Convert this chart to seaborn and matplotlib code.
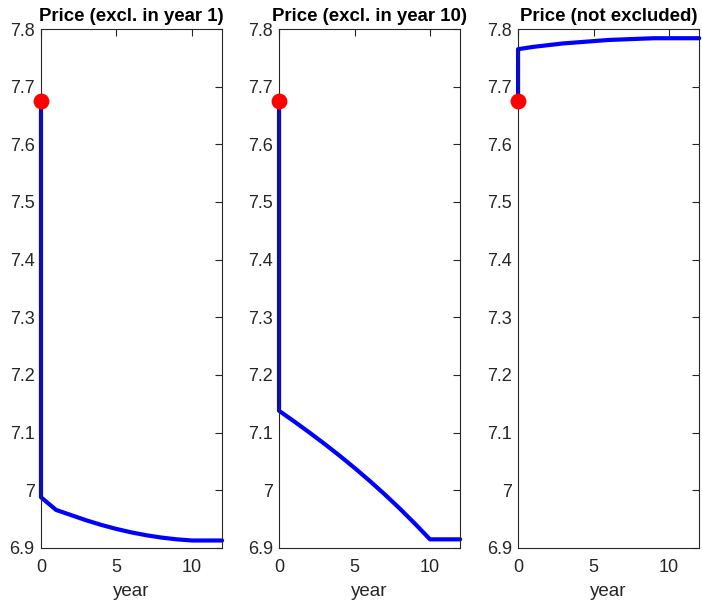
import matplotlib
matplotlib.use("Agg")
import matplotlib.pyplot as plt
import seaborn as sns
import pandas as pd

sns.set_theme(style="white")
plt.rcParams["font.family"] = ["Liberation Sans", "DejaVu Sans"]

# Price paths by year; the first entry at year 0 is the pre-announcement price
years = [0, 0, 1, 2, 3, 4, 5, 6, 7, 8, 9, 10, 11, 12]
start_price = 7.675
price_excl_year1 = [7.675, 6.988, 6.966, 6.957, 6.948, 6.940, 6.933, 6.927,
                    6.922, 6.918, 6.915, 6.913, 6.913, 6.913]
price_excl_year10 = [7.675, 7.1380, 7.1195, 7.1005, 7.0808, 7.0603, 7.0389,
                     7.0165, 6.9930, 6.9683, 6.9423, 6.9150, 6.9150, 6.9150]
price_not_excl = [7.675, 7.765, 7.769, 7.772, 7.775, 7.777, 7.779, 7.781,
                  7.782, 7.783, 7.784, 7.784, 7.784, 7.784]
titles = ["Price (excl. in year 1)", "Price (excl. in year 10)",
          "Price (not excluded)"]
x_ticks = [0, 5, 10]
y_ticks = [6.9, 7.0, 7.1, 7.2, 7.3, 7.4, 7.5, 7.6, 7.7, 7.8]
y_tick_labels = ["6.9", "7", "7.1", "7.2", "7.3", "7.4", "7.5", "7.6", "7.7", "7.8"]

fig = plt.figure(figsize=(7.02, 6.08), dpi=100)
lefts = [0.0584, 0.3975, 0.738]
series = [price_excl_year1, price_excl_year10, price_not_excl]
grey = "#262626"

for left, vals, title in zip(lefts, series, titles):
    ax = fig.add_axes([left, 0.0987, 0.258, 0.8536])
    df = pd.DataFrame({"year": years, "price": vals})
    sns.lineplot(data=df, x="year", y="price", ax=ax, sort=False,
                 estimator=None, color="#0000ff", linewidth=3.0)
    for ln in ax.get_lines():
        ln.set_clip_on(False)
    sns.scatterplot(x=[0], y=[start_price], ax=ax, color="#ff0000",
                    s=130, edgecolor="#ff0000", linewidth=0, zorder=5,
                    clip_on=False)
    ax.set_xlim(0, 12)
    ax.set_ylim(6.9, 7.8)
    ax.set_xticks(x_ticks)
    ax.set_yticks(y_ticks)
    ax.set_yticklabels(y_tick_labels)
    ax.set_xlabel("year", fontsize=13.5, color=grey, labelpad=5)
    ax.set_ylabel("")
    ax.set_title(title, fontsize=13.4, fontweight="bold", color="black", pad=6)
    ax.tick_params(direction="in", length=5, width=0.8, colors=grey,
                   labelsize=13, top=True, right=True)
    ax.tick_params(axis="x", pad=8)
    ax.tick_params(axis="y", pad=4.5)
    for sp in ax.spines.values():
        sp.set_color(grey)
        sp.set_linewidth(0.8)
        sp.set_visible(True)

fig.savefig("out.png", dpi=100, facecolor="white")
